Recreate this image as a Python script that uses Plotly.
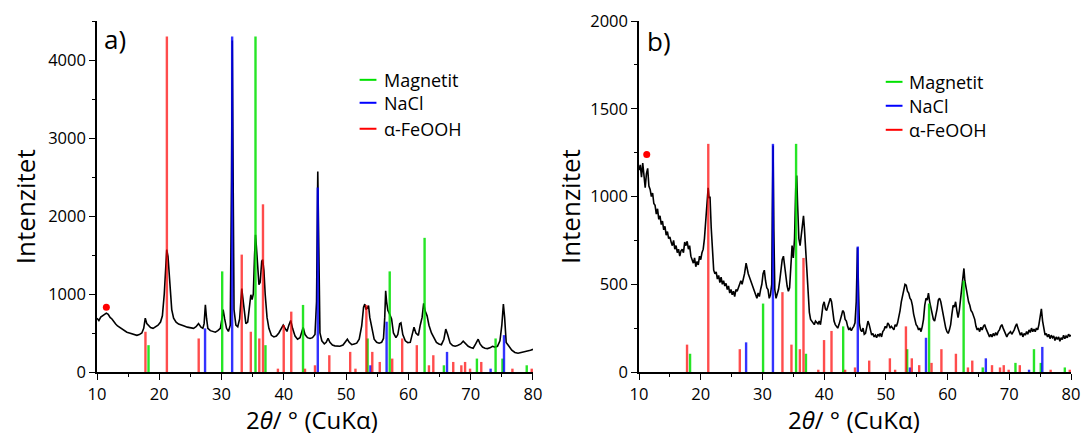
import plotly.graph_objects as go

# ---------------- data ----------------
# Panel a) pattern: 2theta (deg) and intensity
a_tth = [10.0, 10.3, 10.6, 10.9, 11.2, 11.5, 11.8, 12.1, 12.4, 12.7, 13.0, 13.3, 13.6, 14.0, 14.4, 14.8,
         15.2, 15.6, 16.0, 16.4, 16.8, 17.2, 17.5, 17.75, 18.0, 18.3, 18.6, 19.0, 19.4, 19.8, 20.2, 20.5,
         20.8, 21.0, 21.2, 21.4, 21.6, 21.8, 22.0, 22.3, 22.7, 23.1, 23.5, 24.0, 24.5, 25.0, 25.5, 25.9,
         26.3, 26.7, 27.0, 27.2, 27.4, 27.6, 27.8, 28.2, 28.6, 29.0, 29.4, 29.8, 30.1, 30.25, 30.5, 30.8,
         31.1, 31.4, 31.6, 31.72, 31.85, 32.0, 32.3, 32.6, 32.9, 33.1, 33.25, 33.4, 33.6, 33.9, 34.2, 34.5,
         34.7, 34.9, 35.1, 35.3, 35.45, 35.6, 35.8, 36.0, 36.2, 36.45, 36.6, 36.8, 37.0, 37.3, 37.6, 38.0,
         38.4, 38.8, 39.2, 39.6, 39.9, 40.2, 40.5, 40.8, 41.1, 41.4, 41.8, 42.2, 42.6, 42.9, 43.1, 43.4,
         43.8, 44.2, 44.6, 45.0, 45.25, 45.45, 45.6, 45.8, 46.1, 46.5, 46.8, 47.1, 47.4, 47.8, 48.2, 48.6,
         49.0, 49.5, 49.9, 50.2, 50.5, 50.9, 51.3, 51.7, 52.1, 52.5, 52.8, 53.0, 53.2, 53.4, 53.6, 53.8,
         54.1, 54.5, 54.9, 55.3, 55.7, 56.0, 56.2, 56.35, 56.5, 56.7, 57.0, 57.3, 57.6, 58.0, 58.3, 58.6,
         58.8, 59.1, 59.5, 59.9, 60.3, 60.6, 60.9, 61.2, 61.6, 61.9, 62.2, 62.45, 62.7, 63.0, 63.3, 63.7,
         64.1, 64.5, 64.9, 65.3, 65.7, 66.0, 66.3, 66.7, 67.1, 67.5, 67.9, 68.4, 68.8, 69.2, 69.6, 70.0,
         70.4, 70.8, 71.2, 71.5, 71.9, 72.3, 72.7, 73.1, 73.5, 73.9, 74.3, 74.7, 75.0, 75.25, 75.45, 75.7,
         76.1, 76.6, 77.1, 77.6, 78.1, 78.6, 79.1, 79.6, 80.0]
a_int = [690, 660, 705, 720, 745, 755, 740, 700, 680, 640, 615, 590, 575, 545, 530, 510,
         500, 490, 480, 470, 480, 500, 560, 690, 620, 600, 570, 560, 585, 600, 640, 720,
         1000, 1350, 1570, 1480, 1250, 980, 800, 690, 640, 615, 600, 590, 575, 565, 560, 580,
         620, 575, 560, 620, 860, 680, 560, 530, 515, 510, 530, 560, 700, 800, 680, 560,
         520, 600, 2500, 4250, 2600, 800, 600, 580, 680, 1000, 1070, 960, 800, 620, 640, 900,
         990, 930, 1000, 1500, 1760, 1600, 1300, 1120, 1150, 1420, 1440, 1300, 1000, 700, 560, 470,
         450, 460, 500, 560, 600, 560, 520, 600, 660, 560, 460, 420, 440, 520, 570, 480,
         440, 430, 440, 480, 900, 2570, 1500, 500, 400, 360, 380, 430, 380, 345, 335, 330,
         330, 345, 390, 420, 380, 350, 360, 370, 420, 590, 830, 870, 800, 820, 850, 700,
         560, 420, 380, 370, 380, 430, 700, 1040, 900, 790, 740, 680, 500, 440, 480, 620,
         630, 480, 400, 375, 380, 480, 575, 500, 470, 600, 700, 880, 780, 720, 600, 500,
         440, 380, 360, 350, 420, 550, 480, 370, 340, 330, 340, 360, 395, 360, 330, 315,
         305, 360, 420, 360, 320, 305, 300, 310, 330, 320, 330, 400, 600, 870, 700, 380,
         330, 280, 250, 240, 250, 265, 270, 280, 290]

# Panel b) pattern
b_tth = [10.0, 10.2, 10.4, 10.6, 10.8, 11.0, 11.2, 11.4, 11.6, 11.8, 12.0, 12.2, 12.4, 12.6, 12.8, 13.0,
         13.2, 13.4, 13.6, 13.8, 14.0, 14.2, 14.4, 14.6, 14.8, 15.0, 15.2, 15.4, 15.6, 15.8, 16.0, 16.2,
         16.4, 16.6, 16.8, 17.0, 17.2, 17.4, 17.6, 17.8, 18.0, 18.2, 18.4, 18.6, 18.8, 19.0, 19.2, 19.4,
         19.6, 19.8, 20.0, 20.2, 20.4, 20.6, 20.8, 21.0, 21.2, 21.35, 21.5, 21.7, 21.9, 22.1, 22.3, 22.5,
         22.7, 22.9, 23.1, 23.3, 23.5, 23.7, 23.9, 24.1, 24.3, 24.5, 24.7, 24.9, 25.1, 25.3, 25.5, 25.7,
         25.9, 26.1, 26.3, 26.5, 26.7, 26.9, 27.1, 27.35, 27.5, 27.7, 27.9, 28.1, 28.3, 28.5, 28.7, 28.9,
         29.1, 29.3, 29.5, 29.7, 29.9, 30.1, 30.3, 30.5, 30.7, 30.9, 31.1, 31.3, 31.5, 31.6, 31.72, 31.85,
         32.0, 32.2, 32.4, 32.6, 32.8, 33.0, 33.2, 33.4, 33.6, 33.8, 34.0, 34.2, 34.4, 34.6, 34.8, 35.0,
         35.2, 35.4, 35.55, 35.7, 35.9, 36.1, 36.3, 36.5, 36.65, 36.8, 37.0, 37.2, 37.4, 37.6, 37.8, 38.0,
         38.2, 38.4, 38.6, 38.8, 39.0, 39.2, 39.4, 39.6, 39.8, 40.0, 40.2, 40.4, 40.6, 40.8, 41.0, 41.2,
         41.4, 41.6, 41.8, 42.0, 42.2, 42.4, 42.6, 42.8, 43.0, 43.2, 43.4, 43.6, 43.8, 44.0, 44.2, 44.4,
         44.6, 44.8, 45.0, 45.2, 45.4, 45.55, 45.7, 45.9, 46.1, 46.3, 46.5, 46.7, 46.9, 47.1, 47.3, 47.5,
         47.7, 47.9, 48.1, 48.3, 48.5, 48.7, 48.9, 49.1, 49.3, 49.5, 49.7, 49.9, 50.1, 50.3, 50.5, 50.7,
         50.9, 51.1, 51.3, 51.5, 51.7, 51.9, 52.1, 52.3, 52.5, 52.7, 52.9, 53.1, 53.3, 53.5, 53.7, 53.9,
         54.1, 54.3, 54.5, 54.7, 54.9, 55.1, 55.3, 55.5, 55.7, 55.9, 56.1, 56.3, 56.5, 56.7, 56.9, 57.1,
         57.3, 57.5, 57.7, 57.9, 58.1, 58.3, 58.5, 58.7, 58.9, 59.1, 59.3, 59.5, 59.7, 59.9, 60.1, 60.3,
         60.5, 60.7, 60.9, 61.1, 61.3, 61.5, 61.7, 61.9, 62.1, 62.3, 62.5, 62.65, 62.8, 63.0, 63.2, 63.4,
         63.6, 63.8, 64.0, 64.2, 64.4, 64.6, 64.8, 65.0, 65.2, 65.4, 65.6, 65.8, 66.0, 66.2, 66.4, 66.6,
         66.8, 67.0, 67.2, 67.4, 67.6, 67.8, 68.0, 68.2, 68.4, 68.6, 68.8, 69.0, 69.2, 69.4, 69.6, 69.8,
         70.0, 70.2, 70.4, 70.6, 70.8, 71.0, 71.2, 71.4, 71.6, 71.8, 72.0, 72.2, 72.4, 72.6, 72.8, 73.0,
         73.2, 73.4, 73.6, 73.8, 74.0, 74.2, 74.4, 74.6, 74.8, 75.0, 75.2, 75.4, 75.6, 75.8, 76.0, 76.2,
         76.4, 76.6, 76.8, 77.0, 77.2, 77.4, 77.6, 77.8, 78.0, 78.2, 78.4, 78.6, 78.8, 79.0, 79.2, 79.4,
         79.6, 79.8, 80.0]
b_int = [1150, 1180, 1110, 1190, 1120, 1050, 1130, 1160, 1060, 1040, 1000, 1020, 960, 950, 900, 930,
         870, 890, 840, 860, 810, 830, 780, 800, 760, 770, 740, 720, 750, 700, 720, 680,
         700, 660, 690, 700, 680, 740, 720, 745, 700, 720, 660, 640, 620, 650, 600, 630,
         610, 660, 640, 680, 700, 760, 850, 960, 1050, 990, 1000, 820, 680, 580, 560, 570,
         530, 550, 510, 540, 500, 520, 490, 505, 470, 490, 450, 470, 440, 460, 430, 470,
         460, 480, 500, 520, 500, 530, 560, 620, 590, 560, 540, 520, 500, 480, 470, 440,
         420, 450, 430, 470, 500, 560, 580, 520, 480, 470, 420, 440, 500, 900, 1290, 800,
         470, 420, 440, 470, 520, 580, 640, 660, 600, 530, 490, 460, 480, 600, 720, 650,
         760, 1050, 1120, 950, 760, 720, 780, 860, 890, 820, 700, 520, 420, 340, 300, 290,
         285, 270, 290, 280, 275, 290, 270, 320, 380, 400, 360, 350, 370, 390, 420, 400,
         330, 290, 270, 260, 250, 270, 290, 320, 350, 340, 300, 290, 260, 240, 250, 235,
         250, 260, 280, 400, 710, 450, 280, 240, 230, 250, 215, 220, 260, 290, 270, 240,
         210, 220, 200, 210, 195, 215, 205, 220, 200, 230, 240, 260, 250, 280, 270, 250,
         260, 250, 240, 270, 260, 280, 310, 350, 400, 440, 470, 500, 495, 460, 450, 420,
         410, 380, 330, 300, 270, 260, 240, 250, 230, 260, 300, 380, 420, 410, 450, 400,
         370, 330, 300, 290, 320, 360, 410, 420, 400, 360, 320, 280, 250, 230, 220, 240,
         270, 330, 380, 370, 400, 350, 310, 350, 420, 480, 540, 590, 520, 470, 430, 400,
         380, 350, 340, 320, 300, 260, 240, 250, 230, 255, 240, 260, 270, 250, 230, 220,
         200, 215, 200, 220, 205, 225, 210, 230, 240, 260, 270, 250, 230, 210, 200, 215,
         220, 230, 215, 225, 240, 260, 275, 250, 230, 210, 225, 200, 220, 210, 230, 215,
         240, 225, 250, 230, 245, 230, 250, 240, 270, 330, 360, 290, 240, 210, 220, 200,
         215, 190, 210, 195, 205, 180, 200, 185, 200, 175, 195, 185, 210, 190, 205, 195,
         215, 205, 210]

# Reference stick patterns: position (2theta) and relative intensity (%)
magnetit_pos = [18.27, 30.10, 35.45, 37.05, 43.08, 53.45, 57.00, 62.60, 65.70, 71.00, 74.00, 75.10, 79.00]
magnetit_rel = [8, 30, 100, 8, 20, 10, 30, 40, 2, 4, 10, 4, 2]

nacl_pos = [27.35, 31.70, 45.45, 53.90, 56.50, 66.20, 73.20, 75.35]
nacl_rel = [13, 100, 55, 2, 15, 6, 1, 11]

feooh_pos = [17.78, 21.22, 26.33, 33.24, 34.70, 36.06, 36.65, 39.05, 39.98, 41.19, 43.40, 45.00,
             47.30, 50.65, 51.50, 53.25, 54.20, 55.40, 57.40, 59.00, 61.35, 63.30, 64.00, 67.20,
             68.50, 69.10, 69.90, 71.70, 76.70, 79.80]
feooh_rel = [12, 100, 10, 35, 12, 10, 50, 1, 14, 18, 1, 2,
             5, 6, 1, 20, 6, 3, 4, 10, 8, 2, 5, 3,
             2, 3, 1, 3, 1, 1]

# marked reflection (red dot)
dot_a = (11.5, 830)
dot_b = (11.25, 1240)

stick_max_a = 4300
stick_max_b = 1300

phases = [("Magnetit", magnetit_pos, magnetit_rel, "rgba(0,225,0,0.85)", "rgb(0,225,0)"),
          ("NaCl", nacl_pos, nacl_rel, "rgba(0,0,255,0.8)", "rgb(0,0,255)"),
          ("α-FeOOH", feooh_pos, feooh_rel, "rgba(255,0,0,0.7)", "rgb(255,0,0)")]

# ---------------- figure ----------------
fig = go.Figure()

fig.add_trace(go.Scatter(x=a_tth, y=a_int, mode="lines", line=dict(color="black", width=1.6),
                         xaxis="x", yaxis="y", showlegend=False))
fig.add_trace(go.Scatter(x=b_tth, y=b_int, mode="lines", line=dict(color="black", width=1.6),
                         xaxis="x2", yaxis="y2", showlegend=False))


def sticks(pos, rel, scale):
    xs, ys = [], []
    for p, r in zip(pos, rel):
        xs += [p, p, None]
        ys += [0, r / 100 * scale, None]
    return xs, ys


for name, pos, rel, col, _ in phases:
    for ax, ay, sc in (("x", "y", stick_max_a), ("x2", "y2", stick_max_b)):
        xs, ys = sticks(pos, rel, sc)
        fig.add_trace(go.Scatter(x=xs, y=ys, mode="lines", line=dict(color=col, width=2.4),
                                 xaxis=ax, yaxis=ay, showlegend=False, name=name))

fig.add_trace(go.Scatter(x=[dot_a[0]], y=[dot_a[1]], mode="markers",
                         marker=dict(color="red", size=7), xaxis="x", yaxis="y", showlegend=False))
fig.add_trace(go.Scatter(x=[dot_b[0]], y=[dot_b[1]], mode="markers",
                         marker=dict(color="red", size=7), xaxis="x2", yaxis="y2", showlegend=False))

FONT = "Open Sans"
tickfont = dict(family=FONT, size=16.5, color="black")


def xax(domain, anchor):
    return dict(domain=domain, anchor=anchor, range=[10, 80], tickvals=[10, 20, 30, 40, 50, 60, 70, 80],
                ticks="outside", ticklen=6, tickwidth=1.3, tickcolor="black",
                showline=True, linecolor="black", linewidth=1.5, showgrid=False, zeroline=False,
                tickfont=tickfont,
                minor=dict(dtick=5, tick0=0, ticks="outside", ticklen=3, tickwidth=1.3, tickcolor="black"))


def yax(domain_anchor, rng, dtick, mdtick):
    return dict(anchor=domain_anchor, range=rng, dtick=dtick, tick0=0,
                ticks="outside", ticklen=6, tickwidth=1.3, tickcolor="black",
                showline=True, linecolor="black", linewidth=1.5, showgrid=False, zeroline=False,
                tickfont=tickfont,
                minor=dict(dtick=mdtick, tick0=0, ticks="outside", ticklen=3, tickwidth=1.3, tickcolor="black"))


fig.update_layout(
    width=1089, height=437,
    margin=dict(l=97, r=9, t=20, b=65),
    paper_bgcolor="white", plot_bgcolor="white",
    xaxis=xax([0, 0.4476], "y"),
    yaxis=yax("x", [0, 4500], 1000, 500),
    xaxis2=xax([0.5565, 1], "y2"),
    yaxis2=yax("x2", [0, 2000], 500, 250),
    showlegend=False,
)

# axis titles and panel labels
title_font = dict(family=FONT, size=26, color="black")
xtitle_font = dict(family=FONT, size=24, color="black")
xtitle = "2<i>θ</i>/ ° (CuKα)"
ann = []
for xc in (0.2208, 0.7772):
    ann.append(dict(text=xtitle, x=xc, y=-0.136, xref="paper", yref="paper", showarrow=False,
                    xanchor="center", yanchor="middle", font=xtitle_font))
for xc in (-0.0732, 0.4863):
    ann.append(dict(text="Intenzitet", x=xc, y=0.4716, xref="paper", yref="paper", showarrow=False,
                    xanchor="center", yanchor="middle", textangle=-90, font=title_font))
ann.append(dict(text="a)", x=0.005, y=0.949, xref="paper", yref="paper", showarrow=False,
                xanchor="left", yanchor="middle", font=title_font))
ann.append(dict(text="b)", x=0.5625, y=0.943, xref="paper", yref="paper", showarrow=False,
                xanchor="left", yanchor="middle", font=title_font))

# manual legends
legend_font = dict(family=FONT, size=18, color="black")
shapes = []
for (lx0, lx1, tx, rows) in ((0.2696, 0.2869, 0.2925, (0.8324, 0.767, 0.693)),
                             (0.8098, 0.8270, 0.8320, (0.8267, 0.7585, 0.690))):
    for (name, _, _, _, solid), ry in zip(phases, rows):
        shapes.append(dict(type="line", xref="paper", yref="paper", x0=lx0, x1=lx1, y0=ry, y1=ry,
                           line=dict(color=solid, width=2)))
        ann.append(dict(text=name, x=tx, y=ry, xref="paper", yref="paper", showarrow=False,
                        xanchor="left", yanchor="middle", font=legend_font))

fig.update_layout(annotations=ann, shapes=shapes)

fig.write_html("out.html", config={"displayModeBar": False},
               post_script="document.body.style.margin='0';document.body.style.padding='0';"
                           "document.body.style.overflow='hidden';")
